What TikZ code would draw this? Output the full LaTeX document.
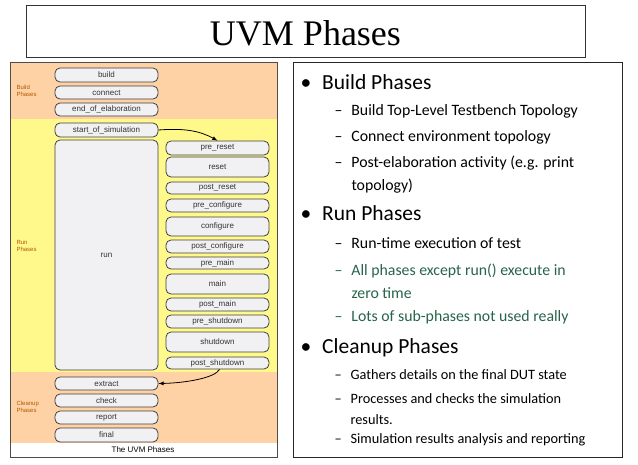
\documentclass[tikz,border=0pt]{standalone}
\usepackage{fontspec}
\setmainfont{Carlito}
\newfontfamily\tms{Liberation Serif}
\newfontfamily\arl{Liberation Sans}
\begin{document}
\begin{tikzpicture}[x=1pt,y=-1pt,
  ph/.style={draw=black!75,line width=0.8pt,fill=blue!6!gray!10,rounded corners=5pt,inner sep=0pt,font=\arl\fontsize{8}{9}\selectfont,text=black!80},
  L/.style={ph,minimum width=103pt},
  R/.style={ph,minimum width=103pt},
  lab/.style={font=\arl\fontsize{6}{7}\selectfont,text=orange!70!black,align=left,anchor=west},
  b/.style={anchor=base west,font=\fontsize{21.5}{24}\selectfont},
  s/.style={anchor=base west,font=\fontsize{15.8}{18}\selectfont},
  c/.style={anchor=base west,font=\fontsize{14.3}{16}\selectfont},
  gr/.style={text={rgb,255:red,40;green,100;blue,75}},
  arr/.style={->,>=latex,line width=0.8pt}]
\useasboundingbox (0,0) rectangle (638,464);
\fill[white] (0,0) rectangle (638,464);
% title
\node[draw=black!80,line width=0.8pt,minimum width=559pt,minimum height=52pt] (title) at (305.5,31) {};
\node[font=\tms\fontsize{36}{40}\selectfont] (tt) at (305.5,33) {UVM Phases};
% left panel
\fill[orange!35!white] (10,62) rectangle (277,119);
\fill[yellow!45!white] (10,119) rectangle (277,372);
\fill[orange!35!white] (10,372) rectangle (277,443);
\draw[black!70,line width=0.8pt] (10,62) rectangle (277,457);
\node[font=\arl\fontsize{8}{9}\selectfont] (cap) at (143,450) {The UVM Phases};
\node[lab] (lb) at (13,91) {Build\\Phases};
\node[lab] (lr) at (13,246) {Run\\Phases};
\node[lab] (lc) at (13,407) {Cleanup\\Phases};
\node[L,minimum height=14pt] (build) at (106.5,75) {build};
\node[L,minimum height=13pt] (connect) at (106.5,92.5) {connect};
\node[L,minimum height=13pt] (eoe) at (106.5,109.5) {end\_of\_elaboration};
\node[L,minimum height=14pt] (sos) at (106.5,130) {start\_of\_simulation};
\node[L,minimum height=230pt] (run) at (106.5,255) {run};
\node[R,minimum height=14pt] (prr) at (217.5,148) {pre\_reset};
\node[R,minimum height=20pt] (rst) at (217.5,167) {reset};
\node[R,minimum height=12pt] (por) at (217.5,188) {post\_reset};
\node[R,minimum height=13pt] (prc) at (217.5,205.5) {pre\_configure};
\node[R,minimum height=19pt] (cfg) at (217.5,226.5) {configure};
\node[R,minimum height=13pt] (poc) at (217.5,246.5) {post\_configure};
\node[R,minimum height=12pt] (prm) at (217.5,263) {pre\_main};
\node[R,minimum height=20pt] (mn) at (217.5,284) {main};
\node[R,minimum height=13pt] (pom) at (217.5,304.5) {post\_main};
\node[R,minimum height=13pt] (prs) at (217.5,321.5) {pre\_shutdown};
\node[R,minimum height=20pt] (shd) at (217.5,342) {shutdown};
\node[R,minimum height=12pt] (pos) at (217.5,363) {post\_shutdown};
\node[L,minimum height=13pt] (ext) at (106.5,383.5) {extract};
\node[L,minimum height=13pt] (chk) at (106.5,400.5) {check};
\node[L,minimum height=13pt] (rep) at (106.5,417.5) {report};
\node[L,minimum height=14pt] (fin) at (106.5,435) {final};
\draw[arr] (sos.east) .. controls (185,128) and (200,131) .. (prr.north);
\draw[arr] ([xshift=2pt]pos.south) .. controls (215,378) and (185,383) .. (ext.east);
% right panel
\node[draw=black!85,line width=0.8pt,minimum width=329pt,minimum height=395pt] (rp) at (457.5,259.5) {};
\node[b] (b1) at (297,89) {\textbullet\hspace{11pt}Build Phases};
\node[s] (s1) at (331,115) {–\hspace{9pt}Build Top-Level Testbench Topology};
\node[s] (s2) at (331,141) {–\hspace{9pt}Connect environment topology};
\node[s] (s3) at (331,167) {–\hspace{9pt}Post-elaboration activity (e.g. print};
\node[s] (s3b) at (348,190) {topology)};
\node[b] (b2) at (297,220) {\textbullet\hspace{11pt}Run Phases};
\node[s] (s4) at (331,248) {–\hspace{9pt}Run-time execution of test};
\node[s,gr] (s5) at (331,275) {–\hspace{9pt}All phases except run() execute in};
\node[s,gr] (s5b) at (348,298) {zero time};
\node[s,gr] (s6) at (331,321) {–\hspace{9pt}Lots of sub-phases not used really};
\node[b] (b3) at (297,353) {\textbullet\hspace{11pt}Cleanup Phases};
\node[c] (s7) at (331,379) {–\hspace{9pt}Gathers details on the final DUT state};
\node[c] (s8) at (331,403) {–\hspace{9pt}Processes and checks the simulation};
\node[c] (s8b) at (347,424) {results.};
\node[c] (s9) at (331,443) {–\hspace{9pt}Simulation results analysis and reporting};
\end{tikzpicture}
\end{document}
